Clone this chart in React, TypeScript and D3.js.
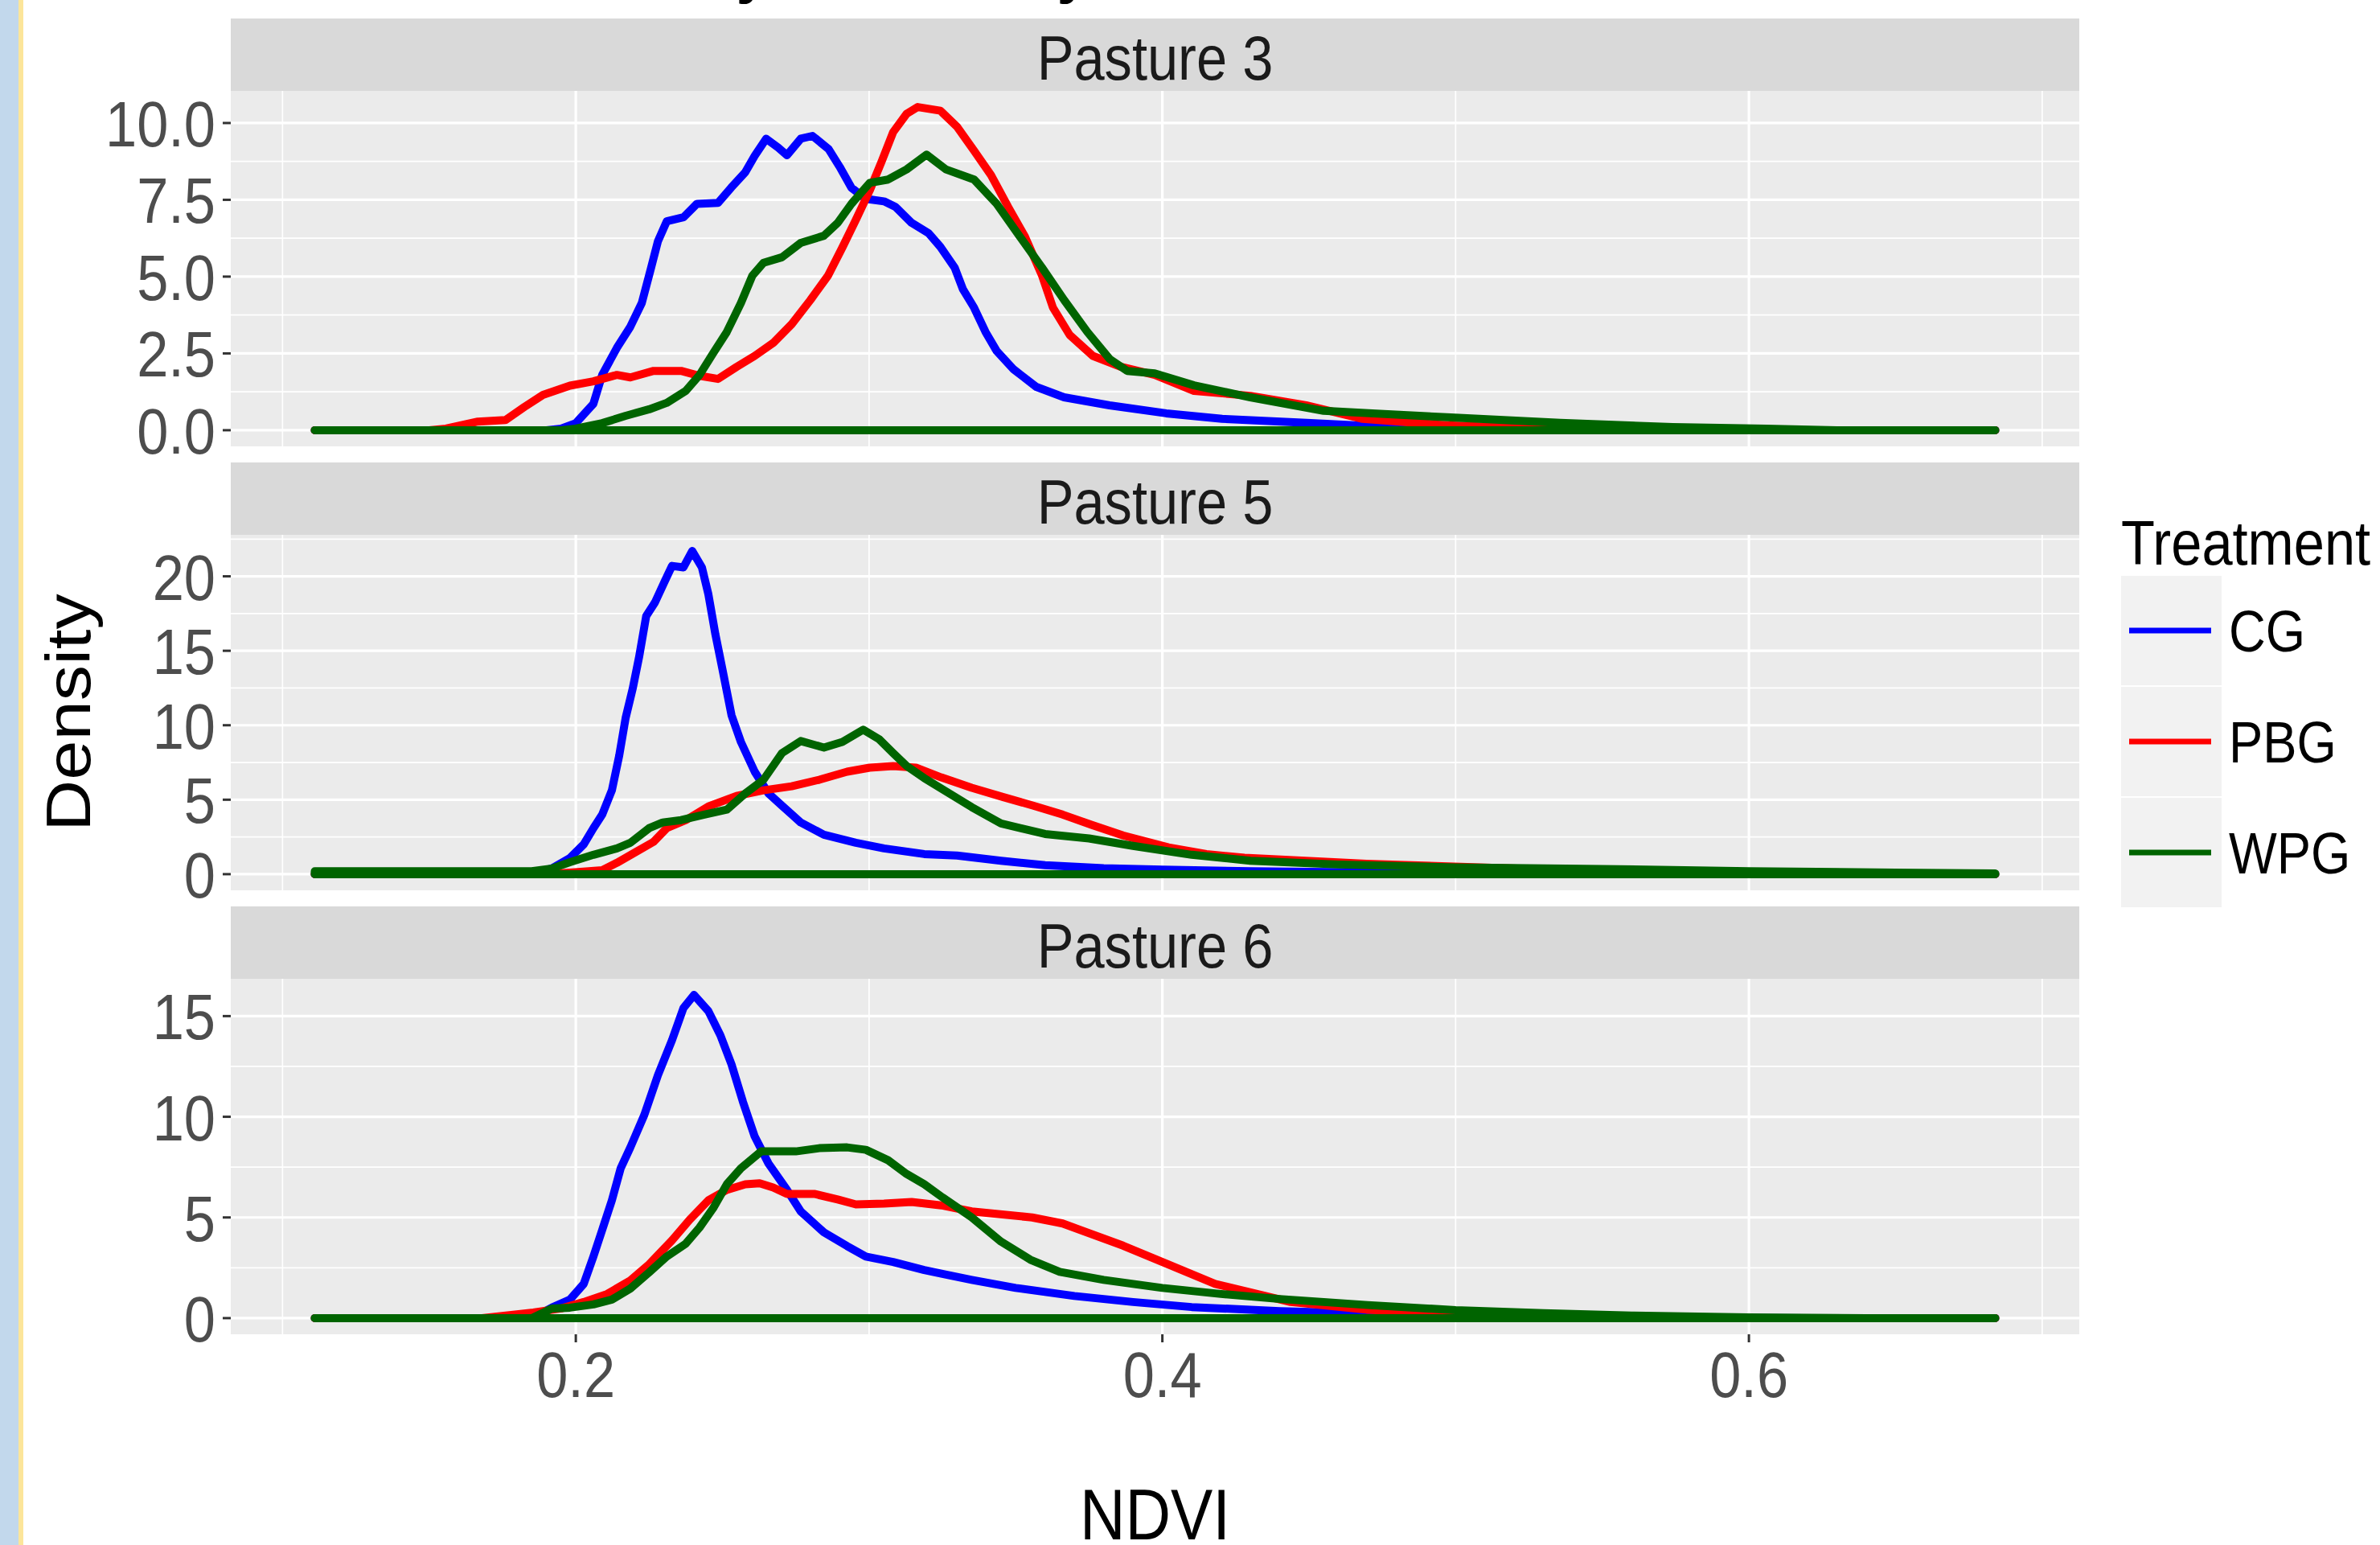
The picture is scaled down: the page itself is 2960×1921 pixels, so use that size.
import React from 'react';
import * as d3 from 'd3';

type Pt = [number, number];

// ---- data ----
const treatments = ['CG', 'PBG', 'WPG'];
const pastures = ['Pasture 3', 'Pasture 5', 'Pasture 6'];
const ndviTicks = [0.2, 0.4, 0.6];
const ndviMinor = [0.1, 0.3, 0.5, 0.7];
const ndviRange = [0.111, 0.684];
const densityTicks3 = [0, 2.5, 5, 7.5, 10];
const densityTicks5 = [0, 5, 10, 15, 20];
const densityTicks6 = [0, 5, 10, 15];

// Pasture 3
const p3CG: Pt[] = [[0.111,0],[0.19,0],[0.195,0.05],[0.2,0.23],[0.206,0.86],[0.209,1.8],[0.214,2.68],[0.2186,3.37],[0.2225,4.14],[0.2257,5.3],[0.228,6.15],[0.231,6.8],[0.2367,6.93],[0.2413,7.37],[0.2485,7.4],[0.253,7.9],[0.2578,8.4],[0.261,8.93],[0.2649,9.49],[0.269,9.2],[0.272,8.95],[0.2767,9.49],[0.2807,9.58],[0.2862,9.15],[0.29,8.57],[0.294,7.89],[0.2989,7.53],[0.3051,7.45],[0.309,7.27],[0.3145,6.75],[0.3203,6.41],[0.3243,5.97],[0.3292,5.29],[0.332,4.59],[0.3358,3.99],[0.3397,3.2],[0.3435,2.58],[0.3493,1.98],[0.357,1.41],[0.3665,1.07],[0.382,0.81],[0.4013,0.55],[0.4204,0.37],[0.4492,0.24],[0.478,0.1],[0.5165,0.02],[0.56,0],[0.684,0]];
const p3PBG: Pt[] = [[0.111,0],[0.15,0],[0.1557,0.05],[0.1666,0.28],[0.176,0.33],[0.1825,0.76],[0.1888,1.15],[0.198,1.45],[0.206,1.59],[0.214,1.8],[0.2186,1.72],[0.2265,1.93],[0.2359,1.93],[0.2422,1.77],[0.2485,1.67],[0.2548,2.06],[0.261,2.42],[0.2673,2.84],[0.2736,3.45],[0.28,4.24],[0.286,5.03],[0.291,5.97],[0.2955,6.85],[0.3002,7.8],[0.3043,8.75],[0.3082,9.7],[0.3128,10.3],[0.3166,10.52],[0.3243,10.4],[0.33,9.88],[0.3358,9.1],[0.3416,8.3],[0.3474,7.27],[0.353,6.33],[0.359,5.03],[0.3627,3.99],[0.3684,3.1],[0.3763,2.42],[0.386,2.06],[0.3974,1.8],[0.4108,1.28],[0.43,1.12],[0.449,0.81],[0.4683,0.37],[0.497,0.16],[0.5357,0.03],[0.6,0],[0.684,0]];
const p3WPG: Pt[] = [[0.111,0],[0.195,0],[0.2,0.05],[0.209,0.23],[0.217,0.47],[0.225,0.68],[0.231,0.89],[0.2375,1.28],[0.2422,1.8],[0.2468,2.5],[0.2515,3.2],[0.2563,4.14],[0.2602,5.03],[0.264,5.45],[0.2703,5.63],[0.2767,6.1],[0.2846,6.33],[0.2893,6.75],[0.294,7.37],[0.3002,8.05],[0.3065,8.16],[0.3128,8.49],[0.3196,8.97],[0.3262,8.49],[0.3358,8.16],[0.3435,7.37],[0.3512,6.33],[0.359,5.29],[0.3665,4.24],[0.3744,3.2],[0.382,2.32],[0.388,1.93],[0.3974,1.85],[0.4108,1.46],[0.43,1.07],[0.455,0.63],[0.497,0.42],[0.5357,0.24],[0.574,0.1],[0.606,0.05],[0.63,0],[0.684,0]];

// Pasture 5
const p5CG: Pt[] = [[0.111,0],[0.185,0],[0.1918,0.38],[0.198,1.08],[0.2027,2.0],[0.206,3.09],[0.209,4.0],[0.2123,5.63],[0.2148,7.96],[0.217,10.5],[0.2194,12.46],[0.2216,14.6],[0.224,17.33],[0.227,18.25],[0.2304,19.7],[0.2328,20.7],[0.2367,20.6],[0.2397,21.7],[0.243,20.6],[0.2452,18.8],[0.2476,16.1],[0.25,13.76],[0.2531,10.67],[0.2563,8.88],[0.261,6.88],[0.2657,5.42],[0.2703,4.6],[0.2767,3.47],[0.2846,2.65],[0.2955,2.11],[0.3051,1.73],[0.3188,1.35],[0.33,1.25],[0.345,0.9],[0.36,0.6],[0.38,0.4],[0.4,0.3],[0.43,0.2],[0.47,0.12],[0.52,0.06],[0.58,0.02],[0.62,0],[0.684,0]];
const p5PBG: Pt[] = [[0.111,0],[0.19,0],[0.198,0.1],[0.209,0.27],[0.214,0.76],[0.2202,1.46],[0.2265,2.17],[0.231,3.09],[0.2375,3.63],[0.2452,4.55],[0.2548,5.25],[0.264,5.63],[0.2736,5.9],[0.283,6.34],[0.2925,6.88],[0.3002,7.15],[0.3082,7.26],[0.316,7.15],[0.3246,6.5],[0.335,5.8],[0.3453,5.2],[0.356,4.6],[0.366,4.0],[0.376,3.3],[0.3866,2.6],[0.4021,1.8],[0.415,1.35],[0.428,1.1],[0.4696,0.7],[0.521,0.38],[0.573,0.17],[0.625,0.02],[0.684,0]];
const p5WPG: Pt[] = [[0.111,0.2],[0.185,0.2],[0.1918,0.38],[0.198,0.81],[0.206,1.3],[0.214,1.73],[0.2186,2.11],[0.225,3.09],[0.2296,3.47],[0.2359,3.63],[0.2438,4.0],[0.2515,4.33],[0.2578,5.42],[0.264,6.34],[0.2703,8.13],[0.2767,8.94],[0.2846,8.5],[0.2909,8.88],[0.298,9.7],[0.3035,9.05],[0.3082,8.13],[0.3128,7.26],[0.3188,6.45],[0.335,4.5],[0.345,3.4],[0.36,2.7],[0.375,2.4],[0.39,1.9],[0.41,1.3],[0.43,0.9],[0.46,0.65],[0.5,0.45],[0.55,0.35],[0.6,0.2],[0.65,0.1],[0.684,0.05]];

// Pasture 6
const p6CG: Pt[] = [[0.111,0],[0.185,0],[0.1918,0.52],[0.198,0.92],[0.2027,1.7],[0.206,3.06],[0.209,4.38],[0.2123,5.85],[0.2153,7.44],[0.2186,8.48],[0.2233,10.07],[0.228,12.06],[0.2328,13.8],[0.2367,15.4],[0.2403,16.05],[0.2452,15.25],[0.2493,14.05],[0.2531,12.6],[0.257,10.74],[0.261,9.02],[0.2657,7.68],[0.272,6.37],[0.2767,5.3],[0.2846,4.26],[0.2925,3.58],[0.2989,3.06],[0.3082,2.79],[0.3188,2.39],[0.325,2.2],[0.335,1.9],[0.35,1.5],[0.37,1.1],[0.39,0.8],[0.41,0.55],[0.44,0.35],[0.48,0.2],[0.53,0.08],[0.58,0.02],[0.62,0],[0.684,0]];
const p6PBG: Pt[] = [[0.111,0],[0.168,0],[0.1855,0.28],[0.195,0.48],[0.2027,0.8],[0.2107,1.2],[0.2186,1.87],[0.225,2.67],[0.2328,3.86],[0.2389,4.9],[0.2452,5.85],[0.2515,6.37],[0.2578,6.65],[0.2627,6.7],[0.2673,6.49],[0.272,6.17],[0.2813,6.17],[0.2893,5.89],[0.2955,5.65],[0.3051,5.69],[0.3145,5.77],[0.3246,5.6],[0.335,5.3],[0.3556,5.0],[0.366,4.7],[0.3866,3.6],[0.402,2.67],[0.418,1.7],[0.4437,0.8],[0.4696,0.42],[0.521,0.12],[0.563,0.03],[0.6,0],[0.684,0]];
const p6WPG: Pt[] = [[0.111,0],[0.185,0],[0.1918,0.48],[0.198,0.52],[0.206,0.68],[0.2123,0.92],[0.2186,1.47],[0.225,2.27],[0.231,3.06],[0.2375,3.7],[0.2422,4.5],[0.2468,5.45],[0.2515,6.65],[0.2563,7.44],[0.2632,8.28],[0.275,8.28],[0.283,8.44],[0.2925,8.48],[0.2989,8.36],[0.3065,7.84],[0.3128,7.16],[0.3188,6.65],[0.325,6.0],[0.335,5.0],[0.345,3.8],[0.355,2.9],[0.365,2.3],[0.38,1.9],[0.4,1.5],[0.42,1.2],[0.44,0.95],[0.47,0.65],[0.5,0.4],[0.53,0.25],[0.56,0.13],[0.6,0.04],[0.64,0],[0.684,0]];

const panelSeries: Pt[][][] = [
  [p3CG, p3PBG, p3WPG],
  [p5CG, p5PBG, p5WPG],
  [p6CG, p6PBG, p6WPG],
];
const panelTicks = [densityTicks3, densityTicks5, densityTicks6];

// ---- styling / layout ----
const W = 2960;
const H = 1921;
const colors = ['#0000FF', '#FF0000', '#006400'];
const font = '"Liberation Sans", Arial, sans-serif';
const plotL = 287;
const plotR = 2586;
const stripTop0 = 23;
const stripH = 90;
const panelH = 442;
const pitch = 552;
const squeeze = 0.88; // text in the picture is a little narrow

const T = ({ x, y, size, children, anchor = 'start', fill = '#000', weight = 'normal' }: any) => (
  <text
    transform={`translate(${x},${y}) scale(${squeeze},1)`}
    fontSize={size}
    fontFamily={font}
    textAnchor={anchor}
    fill={fill}
    fontWeight={weight}
  >
    {children}
  </text>
);

const expand = (lo: number, hi: number) => {
  const pad = (hi - lo) * 0.05;
  return [lo - pad, hi + pad];
};

export default function App() {
  const x = d3.scaleLinear().domain(expand(ndviRange[0], ndviRange[1])).range([plotL, plotR]);
  const [xLo, xHi] = x.domain();
  const lastBottom = stripTop0 + 2 * pitch + stripH + panelH;

  return (
    <svg
      width={W}
      height={H}
      style={{ position: 'absolute', left: 0, top: 0, display: 'block', background: '#fff' }}
    >
      <rect x={0} y={0} width={W} height={H} fill="#fff" />
      {/* slide edge */}
      <rect x={0} y={0} width={23} height={H} fill="#C2D8EC" />
      <rect x={23} y={0} width={6} height={H} fill="#FCE59A" />

      {/* title, cropped at the top of the picture: only the descenders show */}
      <T x={687} y={-13} size={85} weight="bold">Density of NDVI by Pasture</T>

      {panelSeries.map((series, i) => {
        const stripTop = stripTop0 + i * pitch;
        const top = stripTop + stripH;
        const bottom = top + panelH;
        const ticks = panelTicks[i];
        const yMax = d3.max(series.flat(), (d) => d[1]) as number;
        const y = d3.scaleLinear().domain(expand(0, yMax)).range([bottom, top]);
        const [yLo, yHi] = y.domain();
        const step = ticks[1] - ticks[0];
        const yMinor = ticks.map((t) => t + step / 2).filter((t) => t > yLo && t < yHi);
        const fmt = i === 0 ? d3.format('.1f') : d3.format('d');
        const line = d3
          .line<Pt>()
          .x((d) => x(d[0]))
          .y((d) => y(d[1]));

        return (
          <g key={pastures[i]}>
            <rect x={plotL} y={stripTop} width={plotR - plotL} height={stripH} fill="#D9D9D9" />
            <T x={(plotL + plotR) / 2} y={stripTop + 76} size={78} anchor="middle" fill="#1A1A1A">
              {pastures[i]}
            </T>
            <rect x={plotL} y={top} width={plotR - plotL} height={panelH} fill="#EBEBEB" />
            {yMinor.map((t) => (
              <line key={'ym' + t} x1={plotL} x2={plotR} y1={y(t)} y2={y(t)} stroke="#fff" strokeWidth={1.7} />
            ))}
            {ndviMinor
              .filter((t) => t > xLo && t < xHi)
              .map((t) => (
                <line key={'xm' + t} x1={x(t)} x2={x(t)} y1={top} y2={bottom} stroke="#fff" strokeWidth={1.7} />
              ))}
            {ticks.map((t) => (
              <line key={'yM' + t} x1={plotL} x2={plotR} y1={y(t)} y2={y(t)} stroke="#fff" strokeWidth={3.2} />
            ))}
            {ndviTicks.map((t) => (
              <line key={'xM' + t} x1={x(t)} x2={x(t)} y1={top} y2={bottom} stroke="#fff" strokeWidth={3.2} />
            ))}

            {series.map((pts, k) => {
              const closed: Pt[] = [[pts[0][0], 0], ...pts, [pts[pts.length - 1][0], 0]];
              return (
                <path
                  key={treatments[k]}
                  d={(line(closed) as string) + 'Z'}
                  fill="none"
                  stroke={colors[k]}
                  strokeWidth={10}
                  strokeLinejoin="round"
                  strokeLinecap="butt"
                />
              );
            })}

            {ticks.map((t) => (
              <g key={'yt' + t}>
                <line x1={plotL - 10} x2={plotL} y1={y(t)} y2={y(t)} stroke="#333" strokeWidth={3} />
                <T x={268} y={y(t) + 29} size={80} anchor="end" fill="#4D4D4D">
                  {fmt(t)}
                </T>
              </g>
            ))}
          </g>
        );
      })}

      {/* x axis */}
      {ndviTicks.map((t) => (
        <g key={'xt' + t}>
          <line x1={x(t)} x2={x(t)} y1={lastBottom} y2={lastBottom + 10} stroke="#333" strokeWidth={3} />
          <T x={x(t)} y={1737} size={80} anchor="middle" fill="#4D4D4D">
            {String(t)}
          </T>
        </g>
      ))}
      <T x={(plotL + plotR) / 2} y={1914} size={89} anchor="middle">NDVI</T>
      <text
        transform="translate(112,886) rotate(-90) scale(1.136,1)"
        fontSize={78}
        fontFamily={font}
        textAnchor="middle"
        fill="#000"
      >
        Density
      </text>

      {/* legend */}
      <T x={2638} y={702} size={78}>Treatment</T>
      {treatments.map((name, k) => {
        const ky = 716 + k * 138;
        return (
          <g key={name}>
            <rect x={2638} y={ky} width={125} height={136} fill="#F2F2F2" />
            <line x1={2648} x2={2750} y1={ky + 68} y2={ky + 68} stroke={colors[k]} strokeWidth={7} />
            <T x={2772} y={ky + 68 + 26} size={72}>{name}</T>
          </g>
        );
      })}
    </svg>
  );
}
